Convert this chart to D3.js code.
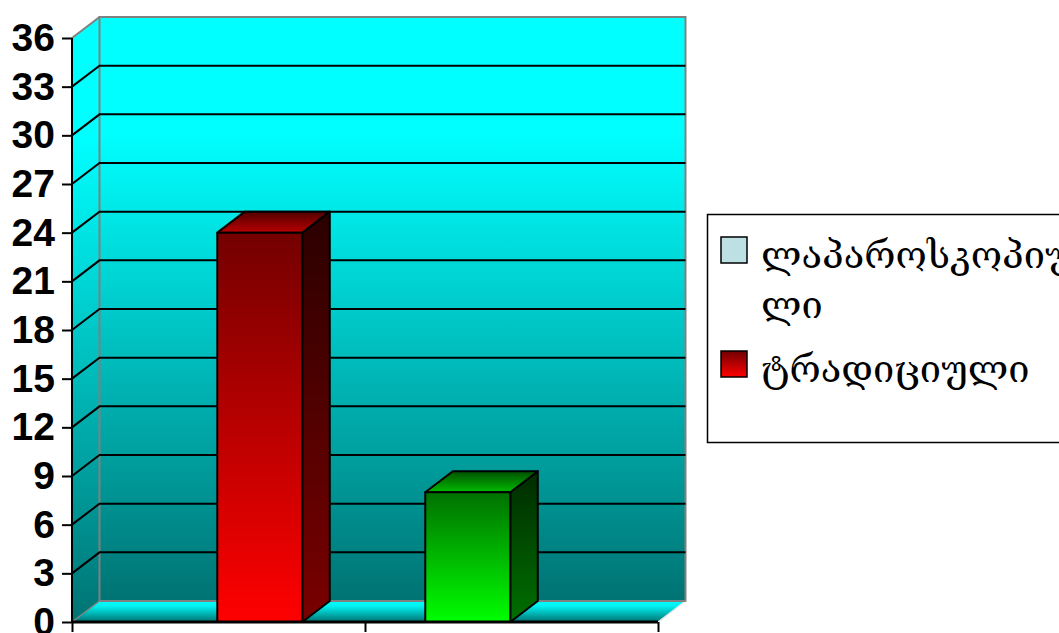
<!DOCTYPE html>
<html>
<head>
<meta charset="utf-8">
<script src="https://cdnjs.cloudflare.com/ajax/libs/d3/7.8.5/d3.min.js"></script>
<style>
  html, body { margin: 0; padding: 0; background: #fff; overflow: hidden; }
  svg { display: block; }
  .y-axis text { font-family: "Liberation Sans", Arial, sans-serif; font-weight: bold; font-size: 39px; fill: #000; }
  .legend-label { font-family: "DejaVu Serif", serif; font-size: 38px; fill: #000; }
</style>
</head>
<body>
<div id="chart"></div>
<script>
// Data
const categories = ["A", "B"];
const seriesNames = ["laparoscopic", "traditional"];
const laparoscopic = [0, 8];
const traditional = [24, 0];
const yTicks = [0, 3, 6, 9, 12, 15, 18, 21, 24, 27, 30, 33, 36];
const legendLines = [["ლაპაროსკოპიუ", "ლი"], ["ტრადიციული"]];

const width = 1059, height = 633;
const margin = {left: 72, right: 401, top: 38, bottom: 11};
const depthX = 27.5, depthY = 21;

const svg = d3.select("#chart")
      .append("svg")
      .attr("width", width)
      .attr("height", height);

const defs = svg.append("defs");

function gradient(id, stops) {
    const g = defs.append("linearGradient")
          .attr("id", id)
          .attr("x1", 0).attr("y1", 0)
          .attr("x2", 0).attr("y2", 1);
    stops.forEach((s) => {
	g.append("stop").attr("offset", s[0]).attr("stop-color", s[1]);
    });
}

gradient("wall", [[0, "#00ffff"], [0.2, "#00ffff"], [1, "#007373"]]);
gradient("floor", [[0, "#00ffff"], [0.25, "#00f0f0"], [1, "#007070"]]);
gradient("redFront", [[0, "#730000"], [1, "#ff0000"]]);
gradient("redSide", [[0, "#2b0000"], [1, "#7a0000"]]);
gradient("redTop", [[0, "#500000"], [1, "#bb0000"]]);
gradient("greenFront", [[0, "#007000"], [1, "#00ff00"]]);
gradient("greenSide", [[0, "#002b00"], [1, "#007000"]]);
gradient("greenTop", [[0, "#005000"], [1, "#00bb00"]]);
gradient("legendRed", [[0, "#700000"], [1, "#ff0000"]]);

const yScale = d3.scaleLinear()
      .domain([0, 36])
      .range([height - margin.bottom, margin.top]);

const x0 = d3.scaleBand()
      .domain(categories)
      .range([margin.left, width - margin.right]);

const x1 = d3.scaleBand()
      .domain(seriesNames)
      .range([0, x0.bandwidth()])
      .paddingOuter(0.7235)
      .paddingInner(0)
      .align(0.49);

// boundaries between the categories carry the x ticks
const xAxisScale = d3.scaleLinear()
      .domain([0, categories.length])
      .range(x0.range());

const y0 = yScale(0), yTop = yScale(36);
const xL = margin.left, xR = width - margin.right;

// side wall, back wall, floor
svg.append("polygon")
    .attr("points", [[xL, y0], [xL, yTop], [xL + depthX, yTop - depthY], [xL + depthX, y0 - depthY]].join(" "))
    .attr("fill", "url(#wall)");
svg.append("rect")
    .attr("x", xL + depthX)
    .attr("y", yTop - depthY)
    .attr("width", xR - xL)
    .attr("height", y0 - yTop)
    .attr("fill", "url(#wall)")
    .attr("stroke", "#808080")
    .attr("stroke-width", 2);
svg.append("polygon")
    .attr("points", [[xL, y0], [xR, y0], [xR + depthX, y0 - depthY], [xL + depthX, y0 - depthY]].join(" "))
    .attr("fill", "url(#floor)");
// light edges of the floor
svg.append("path")
    .attr("d", d3.line()([[xL, y0], [xL + depthX, y0 - depthY]]))
    .attr("stroke", "#808080")
    .attr("fill", "none")
    .attr("stroke-width", 1.5);
svg.append("path")
    .attr("d", d3.line()([[xR, y0], [xR + depthX, y0 - depthY]]))
    .attr("stroke", "#e6e6e6")
    .attr("fill", "none")
    .attr("stroke-width", 1.5);
svg.append("path")
    .attr("d", d3.line()([[xL + depthX, yTop - depthY], [xL, yTop]]))
    .attr("stroke", "#808080")
    .attr("fill", "none")
    .attr("stroke-width", 2);
svg.append("path")
    .attr("d", d3.line()([[xL + depthX, y0 - depthY], [xR + depthX, y0 - depthY]]))
    .attr("stroke", "#808080")
    .attr("fill", "none")
    .attr("stroke-width", 2);

// gridlines, on the side wall and on the back wall
const gridTicks = yTicks.filter((d) => d > 0 && d < 36);
svg.append("g").selectAll("path")
    .data(gridTicks)
    .join("path")
    .attr("d", (d) => d3.line()([
	[xL, yScale(d)],
	[xL + depthX, yScale(d) - depthY],
	[xR + depthX, yScale(d) - depthY]
    ]))
    .attr("fill", "none")
    .attr("stroke", "#000")
    .attr("stroke-width", 2);

// bars, from the two series
const bars = [];
categories.forEach((c, i) => {
    bars.push({cat: c, series: seriesNames[0], value: laparoscopic[i], tone: "green"});
    bars.push({cat: c, series: seriesNames[1], value: traditional[i], tone: "red"});
});

const barG = svg.append("g").selectAll("g")
      .data(bars.filter((d) => d.value > 0))
      .join("g")
      .attr("stroke", "#000")
      .attr("stroke-width", 2)
      .attr("stroke-linejoin", "round");

const barLeft = (d) => x0(d.cat) + x1(d.series);
const barRight = (d) => barLeft(d) + x1.bandwidth();

barG.append("polygon")
    .attr("points", (d) => [
	[barRight(d), y0], [barRight(d), yScale(d.value)],
	[barRight(d) + depthX, yScale(d.value) - depthY], [barRight(d) + depthX, y0 - depthY]
    ].join(" "))
    .attr("fill", (d) => "url(#" + d.tone + "Side)");
barG.append("polygon")
    .attr("points", (d) => [
	[barLeft(d), yScale(d.value)], [barRight(d), yScale(d.value)],
	[barRight(d) + depthX, yScale(d.value) - depthY], [barLeft(d) + depthX, yScale(d.value) - depthY]
    ].join(" "))
    .attr("fill", (d) => "url(#" + d.tone + "Top)");
barG.append("rect")
    .attr("x", barLeft)
    .attr("y", (d) => yScale(d.value))
    .attr("width", x1.bandwidth())
    .attr("height", (d) => y0 - yScale(d.value))
    .attr("fill", (d) => "url(#" + d.tone + "Front)");

// axes
const yAxis = svg.append("g")
      .attr("class", "y-axis")
      .attr("transform", "translate(" + xL + ",0)")
      .call(d3.axisLeft(yScale).tickValues(yTicks).tickSize(10).tickPadding(7).tickFormat(d3.format("d")));
yAxis.selectAll("path, line").attr("stroke", "#000").attr("stroke-width", 2);
yAxis.select(".domain").attr("d", "M0," + y0 + "V" + yTop);

const xAxis = svg.append("g")
      .attr("transform", "translate(0," + y0 + ")")
      .call(d3.axisBottom(xAxisScale).tickValues(d3.range(categories.length + 1)).tickSize(10).tickFormat(""));
xAxis.selectAll("line").attr("stroke", "#000").attr("stroke-width", 2);
xAxis.select(".domain").attr("d", "M" + xL + ",0H" + xR).attr("stroke", "#000").attr("stroke-width", 3);

// legend
const legend = svg.append("g");
legend.append("rect")
    .attr("x", 707.5)
    .attr("y", 214.5)
    .attr("width", 400)
    .attr("height", 228)
    .attr("fill", "#fff")
    .attr("stroke", "#000")
    .attr("stroke-width", 1.5);

const swatches = ["#bde0e4", "url(#legendRed)"];
const swatchY = [237, 351];
legend.selectAll(".swatch")
    .data(swatches)
    .join("rect")
    .attr("class", "swatch")
    .attr("x", 721)
    .attr("y", (d, i) => swatchY[i])
    .attr("width", 26)
    .attr("height", 26)
    .attr("fill", (d) => d)
    .attr("stroke", "#000")
    .attr("stroke-width", 1.5);

const legendBaselines = [[268, 318], [382]];
legendLines.forEach((lines, i) => {
    lines.forEach((line, j) => {
	legend.append("text")
	    .attr("class", "legend-label")
	    .attr("x", 761)
	    .attr("y", legendBaselines[i][j])
	    .text(line);
    });
});
</script>
</body>
</html>
